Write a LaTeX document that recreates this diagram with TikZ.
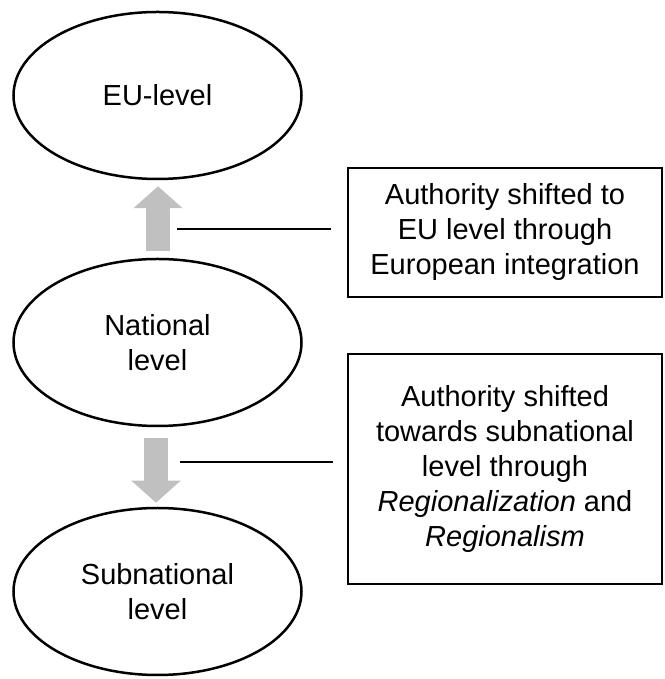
\documentclass[tikz,border=0pt]{standalone}
\usepackage{fontspec}
\setmainfont{Liberation Sans}
\usetikzlibrary{arrows.meta, shapes.geometric}
\definecolor{shiftgray}{RGB}{192,192,192}

\begin{document}
\begin{tikzpicture}[x=1pt, y=1pt, line width=2.5pt,
    font=\fontsize{29}{35}\selectfont,
    level/.style={draw, ellipse, inner sep=0pt, minimum width=288pt, minimum height=167pt, align=center},
    note/.style={draw, rectangle, inner sep=0pt, minimum width=314pt, align=center},
    shiftarrow/.style={shiftgray, line width=24.5pt, -{Triangle[length=22pt, width=48pt]}}]
    \useasboundingbox (0,0) rectangle (664,679);

    % Levels
    \node[level] (eu)  at (157.5, 583.5) {EU-level};
    \node[level] (nat) at (157.5, 336.5) {National\\level};
    \node[level] (sub) at (157.5, 87.5)  {Subnational\\level};

    % Shifts of authority
    \draw[shiftarrow, shorten <=7pt, shorten >=6pt] ([xshift=0.5pt]nat.north) -- ([xshift=0.5pt]eu.south);
    \draw[shiftarrow, shorten <=11pt, shorten >=4pt] ([xshift=-1.5pt]nat.south) -- ([xshift=-1.5pt]sub.north);

    % Explanations
    \node[note, minimum height=129pt] (up)   at (505, 446.5) {Authority shifted to\\EU level through\\European integration};
    \node[note, minimum height=230pt] (down) at (505, 210)   {Authority shifted\\towards subnational\\level through\\\textit{Regionalization} and\\\textit{Regionalism}};

    \coordinate (upline) at (177, 450);
    \coordinate (downline) at (180, 217);
    \draw[shorten >=16pt] (upline) -- (upline -| up.west);
    \draw[shorten >=14pt] (downline) -- (downline -| down.west);
\end{tikzpicture}
\end{document}
